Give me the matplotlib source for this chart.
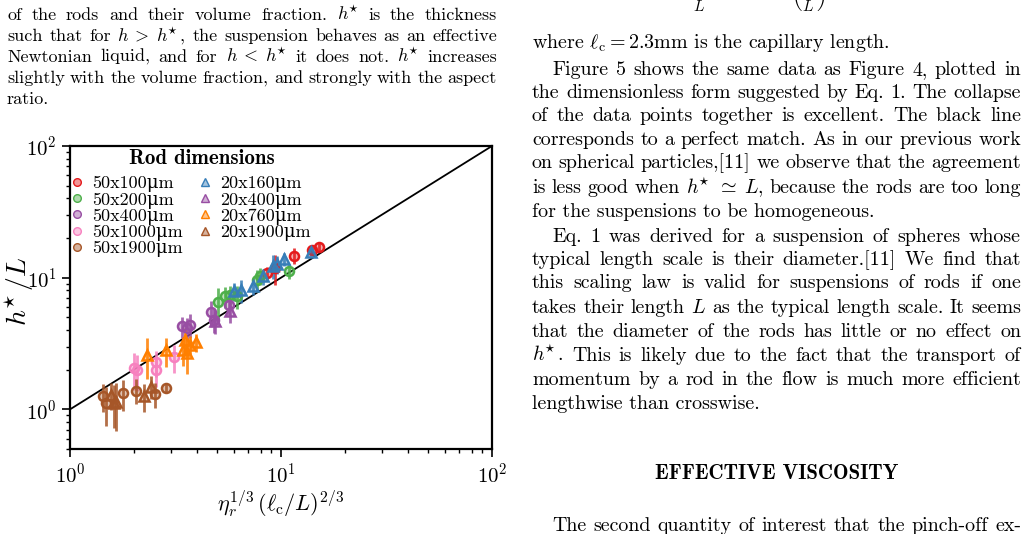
import matplotlib
matplotlib.use("Agg")
import matplotlib.pyplot as plt
from matplotlib.colors import to_rgba
from matplotlib.lines import Line2D

plt.rcParams['font.family'] = ['cmr10', 'DejaVu Serif']
plt.rcParams['mathtext.fontset'] = 'cm'
plt.rcParams['axes.formatter.use_mathtext'] = True

W, H = 1029, 534

# --- data: (x, y, yerr) per rod size ---
labels = ['50x100μm', '50x200μm', '50x400μm', '50x1000μm', '50x1900μm',
          '20x160μm', '20x400μm', '20x760μm', '20x1900μm']
markers = ['o'] * 5 + ['^'] * 4
colors = ['#e41a1c', '#4daf4a', '#984ea3', '#f781bf', '#a65628',
          '#377eb8', '#984ea3', '#ff7f00', '#a65628']

x_50x100 = [8.57, 9.38, 11.54, 14.0, 15.1]
y_50x100 = [10.85, 11.85, 14.71, 16.34, 17.13]
e_50x100 = [1.2, 3.0, 2.0, 1.2, 1.2]

x_50x200 = [5.05, 5.43, 5.74, 6.17, 7.68, 7.96, 10.9]
y_50x200 = [6.53, 7.21, 7.42, 7.21, 9.65, 10.35, 11.3]
e_50x200 = [1.8, 1.3, 1.2, 1.4, 1.8, 1.5, 1.5]

x_50x400 = [3.39, 3.57, 3.71, 4.66, 4.79, 5.70]
y_50x400 = [4.26, 4.14, 4.39, 5.45, 4.79, 6.23]
e_50x400 = [0.8, 0.8, 0.9, 1.2, 1.0, 1.0]

x_50x1000 = [2.0, 2.07, 2.56, 2.56, 3.11]
y_50x1000 = [2.05, 1.99, 2.27, 1.99, 2.49]
e_50x1000 = [0.65, 0.6, 0.5, 0.5, 0.6]

x_50x1900 = [1.43, 1.48, 1.79, 2.06, 2.53, 2.85]
y_50x1900 = [1.26, 1.11, 1.32, 1.39, 1.31, 1.45]
e_50x1900 = [0.3, 0.36, 0.35, 0.3, 0.28, 0.1]

x_20x160 = [6.0, 6.45, 7.35, 8.20, 9.21, 9.56, 10.28, 13.9]
y_20x160 = [7.87, 8.01, 8.69, 10.24, 12.35, 12.6, 13.87, 15.6]
e_20x160 = [1.2, 1.6, 1.3, 1.4, 2.5, 2.0, 1.5, 1.0]

x_20x400 = [4.87, 5.74]
y_20x400 = [4.65, 5.54]
e_20x400 = [0.9, 1.0]

x_20x760 = [2.31, 2.85, 3.42, 3.51, 3.57, 3.71, 3.96]
y_20x760 = [2.59, 2.80, 2.83, 3.37, 2.67, 3.09, 3.22]
e_20x760 = [0.9, 0.7, 0.7, 0.8, 0.8, 0.5, 0.5]

x_20x1900 = [1.56, 1.62, 1.65, 2.24, 2.41]
y_20x1900 = [1.29, 1.12, 1.14, 1.26, 1.49]
e_20x1900 = [0.3, 0.4, 0.45, 0.3, 0.3]

series = [
    (x_50x100, y_50x100, e_50x100),
    (x_50x200, y_50x200, e_50x200),
    (x_50x400, y_50x400, e_50x400),
    (x_50x1000, y_50x1000, e_50x1000),
    (x_50x1900, y_50x1900, e_50x1900),
    (x_20x160, y_20x160, e_20x160),
    (x_20x400, y_20x400, e_20x400),
    (x_20x760, y_20x760, e_20x760),
    (x_20x1900, y_20x1900, e_20x1900),
]

match_line = [1, 100]

# --- surrounding page text ---
HS = r'h^{\!\!\star}'
caption_lines = [
    "of the rods and their volume fraction.  $%s$ is the thickness" % HS,
    "such that for $h\\;>\\;%s$, the suspension behaves as an effective" % HS,
    "Newtonian liquid, and for $h\\;<\\;%s$ it does not.  $%s$ increases" % (HS, HS),
    "slightly with the volume fraction, and strongly with the aspect",
    "ratio.",
]
body_lines = [
    "where $\\ell_\\mathrm{c}=2.3$mm is the capillary length.",
    "Figure 5 shows the same data as Figure 4, plotted in",
    "the dimensionless form suggested by Eq. 1. The collapse",
    "of the data points together is excellent.  The black line",
    "corresponds to a perfect match. As in our previous work",
    "on spherical particles,[11] we observe that the agreement",
    "is less good when $%s\\;\\simeq\\;L$, because the rods are too long" % HS,
    "for the suspensions to be homogeneous.",
    "Eq.  1 was derived for a suspension of spheres whose",
    "typical length scale is their diameter.[11] We find that",
    "this scaling law is valid for suspensions of rods if one",
    "takes their length $L$ as the typical length scale. It seems",
    "that the diameter of the rods has little or no effect on",
    "$%s$.  This is likely due to the fact that the transport of" % HS,
    "momentum by a rod in the flow is much more efficient",
    "lengthwise than crosswise.",
]
body_indent = [False, True, False, False, False, False, False, False,
               True, False, False, False, False, False, False, False]
body_last = [True, False, False, False, False, False, False, True,
             False, False, False, False, False, False, False, True]
heading = "EFFECTIVE VISCOSITY"
next_line = "The second quantity of interest that the pinch-off ex-"


def put_line(fig, renderer, text, x0, x1, y_top, size, justify):
    """Draw one line of text between pixel x0 and x1, baseline y_top px from top."""
    words = text.split()
    yf = 1 - y_top / H
    if not justify:
        fig.text(x0 / W, yf, text, fontsize=size, va='baseline', ha='left')
        return
    arts = [fig.text(0, yf, w, fontsize=size, va='baseline', ha='left') for w in words]
    widths = [a.get_window_extent(renderer).width for a in arts]
    gap = (x1 - x0 - sum(widths)) / max(len(words) - 1, 1)
    x = x0
    for a, w in zip(arts, widths):
        a.set_x(x / W)
        x += w + gap


fig = plt.figure(figsize=(W / 100, H / 100), dpi=100)
ax = fig.add_axes([70 / W, 1 - 449 / H, (492 - 70) / W, (449 - 146) / H])

ax.plot(match_line, match_line, color='black', lw=1.3, zorder=1)

handles = []
for (xs, ys, es), lab, m, c in zip(series, labels, markers, colors):
    ax.errorbar(xs, ys, yerr=es, fmt=m, color=c, ecolor=to_rgba(c, 0.85),
                elinewidth=2.0, capsize=0, ms=6.5 if m == 'o' else 7.5,
                mfc=to_rgba(c, 0.35), mec=c, mew=1.8, zorder=2)
    handles.append(Line2D([], [], ls='none', marker=m, ms=5.5 if m == 'o' else 6,
                          mfc=to_rgba(c, 0.45), mec=c, mew=1.0, label=lab))

ax.set_xscale('log')
ax.set_yscale('log')
ax.set_xlim(1, 100)
ax.set_ylim(0.5, 100)
for s in ax.spines.values():
    s.set_linewidth(1.6)
ax.tick_params(which='major', length=6, width=1.2, labelsize=15)
ax.tick_params(which='minor', length=3, width=1.0)
ax.set_xlabel(r'$\eta_r^{1/3}\,(\ell_\mathrm{c}/L)^{2/3}$', fontsize=16, labelpad=1)
ax.set_ylabel(r'$h^{\!\!\star}/L$', fontsize=20)
ax.yaxis.set_label_coords(-0.08, 0.52)

ax.text(0.313, 0.96, 'Rod dimensions', transform=ax.transAxes, family='cmb10',
        fontsize=15, ha='center', va='center')
leg = ax.legend(handles=handles, ncol=2, loc='upper left', bbox_to_anchor=(-0.04, 0.95),
                frameon=False, fontsize=13,
                labelspacing=-0.02, handletextpad=0.35, columnspacing=0.75,
                handlelength=1.0, borderpad=0.3)

renderer = fig.canvas.get_renderer()

# left column: caption tail
cap_base = [20, 41, 62, 83, 104]
for i, line in enumerate(caption_lines):
    put_line(fig, renderer, line, 7, 497, cap_base[i], 13, i < len(caption_lines) - 1)

# right column: body text
body_base = [48, 75, 98, 121, 145, 168, 193, 217, 242, 265, 288, 313, 337, 361, 385, 409]
for i, line in enumerate(body_lines):
    x0 = 552 if body_indent[i] else 532
    put_line(fig, renderer, line, x0, 1021, body_base[i], 14.4, not body_last[i])

fig.text(777 / W, 1 - 479 / H, heading, fontsize=15, family='cmb10',
         ha='center', va='baseline')
put_line(fig, renderer, next_line, 552, 1021, 531, 14.4, True)

# bottom of Eq. 1, cut by the page top
fig.text(688 / W, 1 - 13 / H,
         r'$\frac{h^{\!\!\star}}{L}\;=\;\qquad\;\left(\frac{\ell_\mathrm{c}}{L}\right)^{2/3}$',
         fontsize=16, ha='left', va='bottom')

fig.savefig('out.png', dpi=100)
